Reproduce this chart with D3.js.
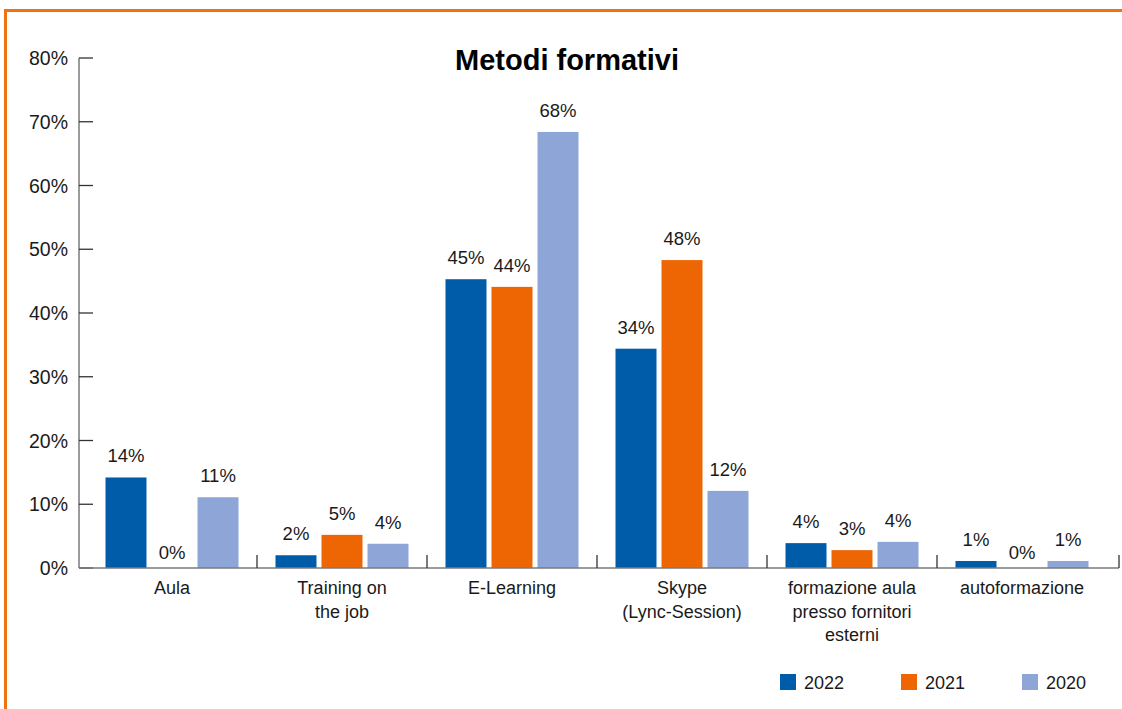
<!DOCTYPE html>
<html>
<head>
<meta charset="utf-8">
<script src="https://cdn.jsdelivr.net/npm/d3@7"></script>
<style>
  body { margin: 0; background: #fff; }
  text { font-family: "Liberation Sans", Arial, sans-serif; fill: #1a1a1a; }
</style>
</head>
<body>
<div id="chart"></div>
<script>
// data
var categories = ["Aula", "Training on\nthe job", "E-Learning", "Skype\n(Lync-Session)",
                  "formazione aula\npresso fornitori\nesterni", "autoformazione"];
var years = ["2022", "2021", "2020"];
var values2022 = [14.2, 2.0, 45.3, 34.4, 3.9, 1.1];
var values2021 = [0, 5.2, 44.1, 48.3, 2.8, 0];
var values2020 = [11.1, 3.8, 68.4, 12.1, 4.1, 1.1];
var yTicks = [0, 10, 20, 30, 40, 50, 60, 70, 80];
var colors = ["#005ba9", "#ee6503", "#8ea6d7"];

var series = [values2022, values2021, values2020];

var W = 1122, H = 709;
var svg = d3.select("#chart").append("svg")
    .attr("width", W).attr("height", H);

// orange frame (top and left)
svg.append("path")
    .attr("d", "M5.5,709 L5.5,10.5 L1122,10.5")
    .attr("fill", "none")
    .attr("stroke", "#f07212")
    .attr("stroke-width", 3);

var axisX0 = 79, axisX1 = 1119;

var y = d3.scaleLinear().domain([0, 80]).range([568, 58]);

var x0 = d3.scaleBand().domain(d3.range(categories.length)).range([87, 1107]);
var x1 = d3.scaleBand().domain(years).range([18.5, 151.5]).paddingInner(0.109);

// title
svg.append("text")
    .attr("x", 567).attr("y", 70)
    .attr("text-anchor", "middle")
    .style("font-size", "29px").style("font-weight", "bold")
    .style("fill", "#000")
    .text("Metodi formativi");

// y axis
svg.append("line")
    .attr("x1", axisX0).attr("x2", axisX0)
    .attr("y1", y(80)).attr("y2", y(0))
    .attr("stroke", "#7a7a7a").attr("stroke-width", 1.5);

svg.selectAll(".ytick").data(yTicks).enter().append("line")
    .attr("x1", axisX0).attr("x2", axisX0 + 14)
    .attr("y1", d => y(d)).attr("y2", d => y(d))
    .attr("stroke", "#333").attr("stroke-width", 1.3);

svg.selectAll(".ylab").data(yTicks).enter().append("text")
    .attr("x", 68).attr("y", d => y(d))
    .attr("dy", "0.36em")
    .attr("text-anchor", "end")
    .style("font-size", "19.5px")
    .text(d => d + "%");

// bars
var groups = svg.selectAll(".grp").data(categories).enter().append("g")
    .attr("transform", (d, i) => "translate(" + x0(i) + ",0)");

groups.each(function(c, i) {
    var g = d3.select(this);
    years.forEach(function(yr, k) {
        var v = series[k][i];
        g.append("rect")
            .attr("x", x1(yr))
            .attr("y", y(v))
            .attr("width", x1.bandwidth())
            .attr("height", y(0) - y(v))
            .attr("fill", colors[k]);
        g.append("text")
            .attr("x", x1(yr) + x1.bandwidth() / 2)
            .attr("y", y(v) - (v > 0 ? 15 : 9))
            .attr("text-anchor", "middle")
            .style("font-size", "18.5px")
            .text(Math.round(v) + "%");
    });
});

// x axis baseline
svg.append("line")
    .attr("x1", axisX0).attr("x2", axisX1)
    .attr("y1", y(0)).attr("y2", y(0))
    .attr("stroke", "#7a7a7a").attr("stroke-width", 1.5);

// category separators
var seps = d3.range(1, categories.length).map(i => x0(i) - 0.5 * (x0.step() - x0.bandwidth()));
seps.push(axisX1);
svg.selectAll(".sep").data(seps).enter().append("line")
    .attr("x1", d => d).attr("x2", d => d)
    .attr("y1", y(0) - 13).attr("y2", y(0))
    .attr("stroke", "#333").attr("stroke-width", 1.3);

// category labels
svg.selectAll(".xlab").data(categories).enter().append("text")
    .attr("x", (d, i) => x0(i) + x0.bandwidth() / 2)
    .attr("y", 594)
    .attr("text-anchor", "middle")
    .style("font-size", "18px")
    .each(function(d) {
        var t = d3.select(this);
        d.split("\n").forEach(function(line, j) {
            t.append("tspan")
                .attr("x", t.attr("x"))
                .attr("dy", j === 0 ? 0 : 23.5)
                .text(line);
        });
    });

// legend
var legendX = [780, 901, 1022];
var leg = svg.selectAll(".leg").data(years).enter().append("g")
    .attr("transform", (d, i) => "translate(" + legendX[i] + ",674)");
leg.append("rect")
    .attr("width", 16).attr("height", 16)
    .attr("fill", (d, i) => colors[i]);
leg.append("text")
    .attr("x", 24).attr("y", 15)
    .style("font-size", "18px")
    .text(d => d);
</script>
</body>
</html>
